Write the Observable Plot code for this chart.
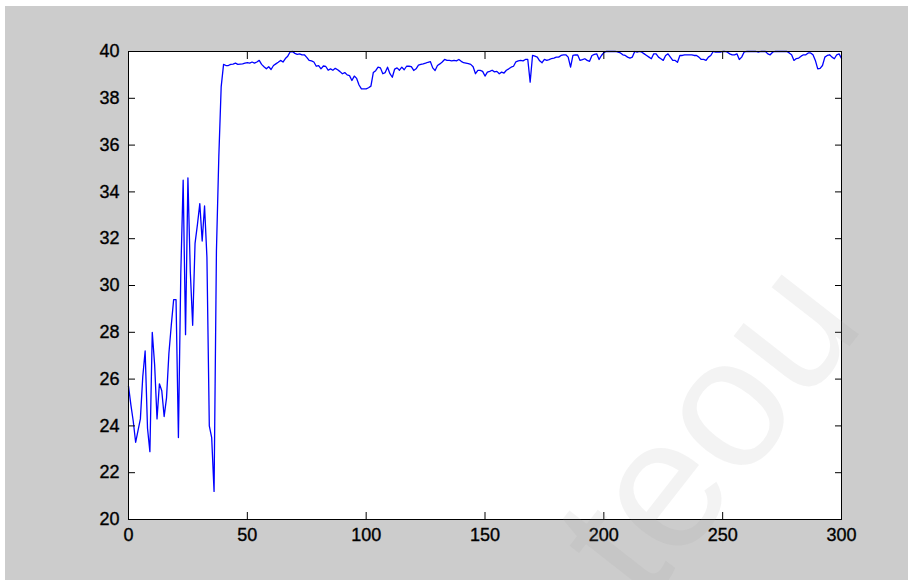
<!DOCTYPE html>
<html>
<head>
<meta charset="utf-8">
<script src="https://cdn.jsdelivr.net/npm/d3@7"></script>
<script src="https://cdn.jsdelivr.net/npm/@observablehq/plot@0.6"></script>
<style>
  html, body { margin: 0; padding: 0; background: #ffffff; }
  #wrap { position: relative; width: 914px; height: 580px; overflow: hidden; background: #ffffff; }
  #bg { position: absolute; left: 5px; top: 6px; width: 903px; height: 574px; background: #cccccc; }
  #chart { position: absolute; left: 0; top: 0; }
  #chart text { stroke: #000; stroke-width: 0.35px; }
  #wm { position: absolute; left: 522px; top: 512px; font-family: "Liberation Sans", Arial, sans-serif;
        font-size: 185px; color: rgba(160,160,160,0.12); transform: rotate(-52deg); transform-origin: 0 0;
        white-space: nowrap; pointer-events: none; line-height: 1; }
</style>
</head>
<body>
<div id="wrap">
  <div id="bg"></div>
  <div id="chart"></div>
</div>
<script>
// Series values, one per x = 0..300
const values = [
  25.7, 24.9, 24.2, 23.3, 23.8, 24.3, 26.1, 27.2, 23.9, 22.9,
  28.0, 26.6, 24.3, 25.8, 25.5, 24.4, 25.2, 27.1, 28.3, 29.4,
  29.4, 23.5, 30.5, 34.5, 27.9, 34.6, 30.6, 28.3, 31.8, 32.6,
  33.5, 31.9, 33.4, 31.2, 24.0, 23.5, 21.2, 31.5, 35.5, 38.5,
  39.45, 39.4, 39.4, 39.45, 39.46, 39.5, 39.45, 39.46, 39.47, 39.5,
  39.52, 39.5, 39.55, 39.5, 39.55, 39.62, 39.45, 39.35, 39.26, 39.35,
  39.23, 39.4, 39.47, 39.54, 39.62, 39.55, 39.7, 39.8, 39.98, 40.0,
  39.92, 39.88, 39.9, 39.86, 39.86, 39.75, 39.62, 39.6, 39.55, 39.37,
  39.4, 39.26, 39.38, 39.36, 39.2, 39.26, 39.2, 39.28, 39.22, 39.14,
  39.05, 39.1, 39.0, 38.97, 38.76, 38.95, 38.85, 38.57, 38.4, 38.4,
  38.4, 38.45, 38.52, 39.1, 39.18, 39.33, 39.3, 39.05, 39.1, 39.33,
  39.05, 38.9, 39.25, 39.3, 39.2, 39.33, 39.22, 39.37, 39.37, 39.35,
  39.19, 39.26, 39.42, 39.45, 39.47, 39.5, 39.54, 39.57, 39.3, 39.19,
  39.4, 39.47, 39.55, 39.66, 39.62, 39.62, 39.6, 39.62, 39.6, 39.66,
  39.58, 39.52, 39.5, 39.48, 39.45, 39.35, 39.05, 39.19, 39.19, 39.15,
  38.95, 39.12, 39.15, 39.2, 39.13, 39.15, 39.05, 39.12, 39.08, 39.2,
  39.26, 39.33, 39.37, 39.56, 39.6, 39.62, 39.6, 39.66, 39.66, 38.69,
  39.83, 39.8, 39.76, 39.6, 39.52, 39.66, 39.62, 39.65, 39.7, 39.72,
  39.76, 39.76, 39.83, 39.86, 39.86, 39.76, 39.33, 39.83, 39.86, 39.85,
  39.62, 39.65, 39.69, 39.62, 39.58, 39.83, 39.88, 39.9, 39.66, 39.83,
  39.95, 40.0, 40.0, 40.0, 40.0, 40.0, 39.97, 39.94, 39.86, 39.83,
  39.76, 39.72, 39.76, 40.0, 39.97, 40.0, 39.97, 39.9, 39.83, 39.76,
  39.69, 39.9, 39.9, 39.76, 39.69, 39.62, 39.83, 39.9, 39.76, 39.62,
  39.62, 39.54, 39.83, 39.83, 39.86, 39.86, 39.86, 39.86, 39.83, 39.83,
  39.76, 39.66, 39.66, 39.62, 39.76, 39.83, 40.0, 39.97, 39.97, 39.97,
  40.0, 40.0, 39.97, 39.9, 39.86, 39.86, 39.9, 39.66, 39.76, 39.97,
  40.0, 40.0, 40.0, 40.0, 40.0, 39.97, 40.0, 40.0, 40.0, 39.9,
  39.86, 39.97, 40.0, 40.0, 40.0, 40.0, 40.0, 40.0, 39.94, 39.86,
  39.62, 39.7, 39.72, 39.8, 39.86, 39.86, 39.94, 39.94, 39.86, 39.62,
  39.26, 39.28, 39.4, 39.76, 39.83, 39.86, 39.76, 39.69, 39.86, 39.9,
  39.7
];
const xTicks = [0, 50, 100, 150, 200, 250, 300];
const yTicks = [20, 22, 24, 26, 28, 30, 32, 34, 36, 38, 40];
const watermark = "teou";

const data = values.map((v, i) => ({x: i, y: v}));

const font = "'Liberation Sans', Arial, sans-serif";
const chart = Plot.plot({
  width: 914,
  height: 580,
  marginLeft: 128,
  marginRight: 73,
  marginTop: 51,
  marginBottom: 61,
  style: {background: "transparent", fontFamily: font, fontSize: "18px", color: "#000"},
  x: {domain: [0, 300]},
  y: {domain: [20, 40]},
  marks: [
    Plot.frame({fill: "white", stroke: null}),
    Plot.line(data, {x: "x", y: "y", stroke: "#0000ff", strokeWidth: 1.3}),
    Plot.frame({stroke: "#000", strokeWidth: 1}),
    Plot.axisX({anchor: "bottom", label: null, ticks: xTicks, tickSize: -7, tickPadding: 16, tickFormat: d => String(d), stroke: "#000"}),
    Plot.axisX({anchor: "top", label: null, ticks: xTicks, tickSize: -7, text: null, stroke: "#000"}),
    Plot.axisY({anchor: "left", label: null, ticks: yTicks, tickSize: -7, tickPadding: 16, tickFormat: d => String(d), stroke: "#000"}),
    Plot.axisY({anchor: "right", label: null, ticks: yTicks, tickSize: -7, text: null, stroke: "#000"})
  ]
});
document.getElementById("chart").appendChild(chart);

const wm = document.createElement("div");
wm.id = "wm";
wm.textContent = watermark;
document.getElementById("wrap").appendChild(wm);
</script>
</body>
</html>
